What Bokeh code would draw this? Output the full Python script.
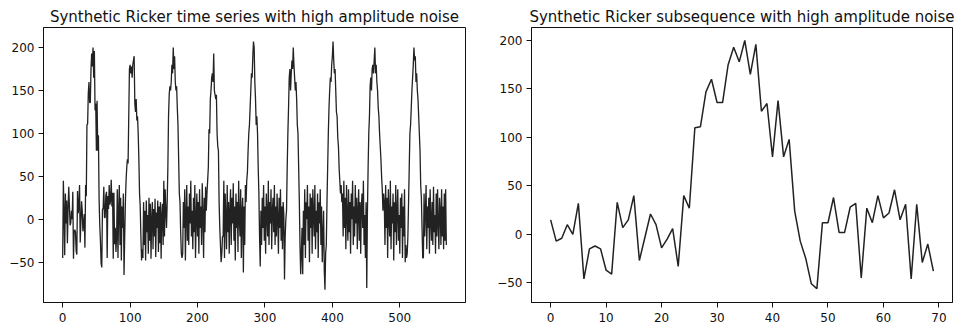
from bokeh.plotting import figure
from bokeh.layouts import row
from bokeh.models import FixedTicker, Range1d
from bokeh.embed import file_html
from bokeh.resources import INLINE

# ---------------- data ----------------
left_title = "Synthetic Ricker time series with high amplitude noise"
right_title = "Synthetic Ricker subsequence with high amplitude noise"

left_xticks = [0, 100, 200, 300, 400, 500]
right_xticks = [0, 10, 20, 30, 40, 50, 60, 70]
y_ticks = [-50, 0, 50, 100, 150, 200]

# right panel: 70-point subsequence
subsequence = [15, -7, -4, 10, 0, 32, -46, -15, -12, -15, -37, -41, 33, 7, 15, 40,
               -27, -3, 21, 10, -14, -5, 6, -33, 40, 27, 110, 111, 147, 160, 136,
               136, 175, 193, 178, 200, 165, 196, 127, 135, 80, 138, 80, 98, 24,
               -7, -25, -51, -56, 12, 12, 38, 2, 2, 28, 32, -45, 27, 12, 40, 17,
               22, 46, 15, 31, -46, 31, -29, -10, -38]

# left panel: full series, in pieces (noise stretches and pulses)
seg_000 = [-45, 45, 8, -42, 30, -5, 22, -28, 12, 38]
seg_010 = subsequence
seg_080 = [-20, 35, -45, 10, 40, -30, 25, -48, 15, -10, 30, -65, -20, 20, 45]
seg_095 = [60, 70, 65, 120, 175, 180, 170, 178, 165, 180, 185, 190, 135, 125, 140,
           115, 120, 100, 70, 30, 15, -20, -48, -35]
seg_119 = [-45, 20, -30, 10, -48, 22, -15, 5, -40, 25, -25, 18, -46, 0, 20, -35, 12,
           -20, 24, -44, 8, -10, 22, -38, 15, -28, 20, -46, 5, 18, -30, 45, -20, 35, 10]
seg_154 = [-10, 20, 60, 120, 145, 155, 150, 160, 180, 170, 200, 175, 190, 160, 150,
           155, 130, 110, 70, 30, 20, -15, -40, -45]
seg_178 = [-40, 20, -10, 35, -48, 5, 40, -25, 15, -30, 30, -5, 45, -20, 10, -35, 25,
           -15, 40, -45, 0, 30, -20, 20, -40, 35, -10, 15, -30, 42, 5, -45, 25, -15, 38, 10]
seg_214 = [30, 45, 60, 105, 100, 140, 150, 165, 170, 160, 193, 150, 145, 140, 145,
           100, 85, 80, 20, -10, -30, -50, -40, -20]
seg_238 = [-20, 45, -45, 30, 0, -35, 40, -15, 20, -40, 10, 35, -30, 25, -5, 42, -25,
           15, -48, 30, -10, 20, -38, 45, 0, -20, 35, -45, 10, 25, -62, 15, -30, 40, 20]
seg_273 = [45, 55, 80, 100, 110, 130, 150, 170, 165, 190, 207, 200, 160, 140, 110,
           120, 100, 60, 30, -20, -55, 10, -30, 25]
seg_297 = [-10, 40, -25, 15, -40, 30, 5, -20, 45, -30, 20, -5, 35, -35, 10, 25, -15,
           40, -30, 15, -20, 30, 0, -40, 25, -10, 35, -25, 15, -35, 20, 5, -70, -20, 0]
seg_332 = [10, 60, 100, 130, 165, 175, 150, 170, 185, 175, 200, 180, 165, 150, 160,
           140, 110, 100, 60, 20, -30, -64, -40, -10]
seg_356 = [-64, 10, -30, 35, -45, 20, 0, 40, -25, 15, -50, 30, -10, 25, -40, 35, 5,
           -20, 40, -35, 10, -15, 30, -45, 20, -5, 35, -30, 15, -50, -20, 10, -60, -82, -40]
seg_391 = [-30, 20, 60, 100, 130, 150, 165, 160, 180, 190, 207, 185, 170, 175, 150,
           125, 120, 95, 85, 60, 45, 30, 40, 20]
seg_415 = [30, -20, 45, -10, 25, -35, 40, 5, -25, 35, -15, 20, -40, 30, 0, 45, -30,
           15, -20, 40, -5, 25, -35, 10, 35, -25, 20, -40, 15, 30, -10, 45, -30, 5,
           -45, 20, -80, 10]
seg_453 = [60, 100, 120, 155, 165, 150, 175, 180, 170, 185, 200, 170, 180, 160, 150,
           130, 120, 100, 85, 70, 50, 35, 10, 30]
seg_477 = [20, -30, 40, -10, 25, -45, 35, 0, -20, 45, -35, 15, -5, 30, -48, 20, -15,
           40, -30, 10, 35, -25, 5, -40, 25, -10, 30, -45, 15, -20, 35, -50, -30, -45]
seg_511 = [-40, -20, 20, 60, 100, 110, 130, 150, 165, 180, 200, 185, 190, 160, 170,
           150, 140, 120, 100, 80, 40, 25, -10, -45]
seg_535 = [-45, 30, -20, 10, 40, -35, 15, -10, 25, -40, 35, 0, -25, 20, -30, 38, -15,
           5, -40, 30, -20, 35, -5, -35, 25, 10, -30, 35, -20, 15, -35, 30, -25, 35, -30]

series = (seg_000 + seg_010 + seg_080 + seg_095 + seg_119 + seg_154 + seg_178 +
          seg_214 + seg_238 + seg_273 + seg_297 + seg_332 + seg_356 + seg_391 +
          seg_415 + seg_453 + seg_477 + seg_511 + seg_535)

series_x = list(range(len(series)))
sub_x = list(range(len(subsequence)))

FONT = "DejaVu Sans"
TXT = "#111111"
LINE = "#222222"


def style(p, xticks):
    p.title.text_font = FONT
    p.title.text_font_size = "15px"
    p.title.text_font_style = "normal"
    p.title.text_color = TXT
    p.title.align = "center"
    p.title.standoff = 4
    p.outline_line_color = "#111111"
    p.outline_line_width = 1
    p.background_fill_color = "white"
    p.border_fill_color = "white"
    p.xgrid.visible = False
    p.ygrid.visible = False
    p.xaxis.ticker = FixedTicker(ticks=xticks)
    p.yaxis.ticker = FixedTicker(ticks=y_ticks)
    for ax in (p.xaxis, p.yaxis):
        ax.axis_line_color = "#111111"
        ax.major_tick_line_color = "#111111"
        ax.major_tick_out = 5
        ax.major_tick_in = 0
        ax.minor_tick_line_color = None
        ax.major_label_text_font = FONT
        ax.major_label_text_font_size = "12px"
        ax.major_label_text_color = TXT
    p.xaxis.major_label_standoff = 5
    p.yaxis.major_label_standoff = 4


p1 = figure(width=490, height=333, output_backend="svg", toolbar_location=None,
            title=left_title,
            x_range=Range1d(-28.45, 597.45), y_range=Range1d(-96.9, 223.4),
            min_border_left=43, min_border_right=25, min_border_top=27,
            min_border_bottom=28)
p1.line(series_x, series, line_color=LINE, line_width=1.3)
style(p1, left_xticks)

p2 = figure(width=466, height=333, output_backend="svg", toolbar_location=None,
            title=right_title,
            x_range=Range1d(-3.45, 72.45), y_range=Range1d(-70.3, 213.4),
            min_border_left=41, min_border_right=4, min_border_top=26,
            min_border_bottom=31)
p2.line(sub_x, subsequence, line_color=LINE, line_width=1.5)
style(p2, right_xticks)

layout = row(p1, p2)
open("out.html", "w").write(file_html(layout, INLINE))
